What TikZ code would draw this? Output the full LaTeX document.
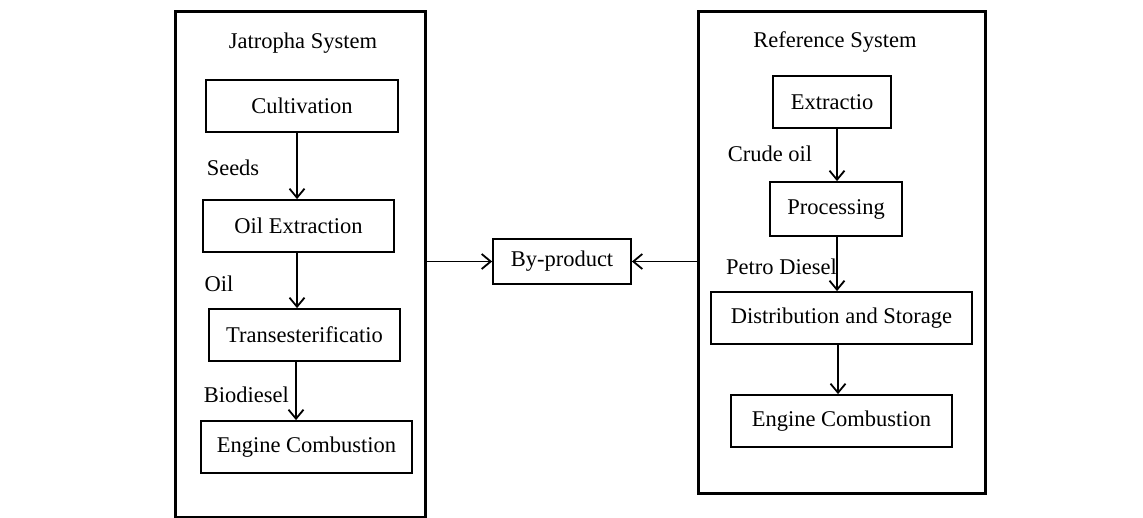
\documentclass[tikz,border=0pt]{standalone}
\usepackage{fontspec}
\setmainfont{Liberation Serif}
\usetikzlibrary{arrows.meta}
\tikzset{
  sysbox/.style={draw, line width=3pt, minimum width=#1},
  stepbox/.style={draw, line width=1.8pt, inner sep=0pt},
  lbl/.style={inner sep=0pt},
  arr/.style={line width=1.8pt, -{Straight Barb[length=9pt,width=15pt,line width=1.8pt]}},
}
\begin{document}
\begin{tikzpicture}[x=1pt,y=-1pt,font=\fontsize{22.5}{27}\selectfont]
\useasboundingbox (0,0) rectangle (1143,518);
% system frames
\node[draw, line width=3pt, minimum width=250pt, minimum height=505pt, inner sep=0pt] (lsys) at (300,264.5) {};
\node[draw, line width=3pt, minimum width=287pt, minimum height=481pt, inner sep=0pt] (rsys) at (841.5,252.5) {};
\node[lbl] (ltitle) at (303,43) {Jatropha System};
\node[lbl] (rtitle) at (835,42) {Reference System};
% left chain
\node[stepbox, minimum width=192pt, minimum height=52pt] (cult) at (302,106) {Cultivation};
\node[stepbox, minimum width=191pt, minimum height=52pt] (oilx) at (298.5,226) {Oil Extraction};
\node[stepbox, minimum width=191pt, minimum height=52pt] (trans) at (304.5,335) {Transesterificatio};
\node[stepbox, minimum width=211pt, minimum height=52pt] (eng1) at (306.5,447) {Engine Combustion};
\coordinate (ax1) at (297,0);
\coordinate (ax2) at (296,0);
\draw[arr] (cult.south -| ax1) -- (oilx.north -| ax1);
\draw[arr] (oilx.south -| ax1) -- (trans.north -| ax1);
\draw[arr] (trans.south -| ax2) -- (eng1.north -| ax2);
\node[lbl] (seeds) at (233,168) {Seeds};
\node[lbl] (oil) at (219,284) {Oil};
\node[lbl, anchor=east] (bio) at (289,395) {Biodiesel};
% right chain
\node[stepbox, minimum width=118pt, minimum height=52pt] (extr) at (832,102) {Extractio};
\node[stepbox, minimum width=132pt, minimum height=54pt] (proc) at (836,209) {Processing};
\node[stepbox, minimum width=261pt, minimum height=52pt] (dist) at (841.5,318) {Distribution and Storage};
\node[stepbox, minimum width=221pt, minimum height=52pt] (eng2) at (841.5,421) {Engine Combustion};
\coordinate (bx1) at (837,0);
\coordinate (bx2) at (838,0);
\draw[arr] (extr.south -| bx1) -- (proc.north -| bx1);
\draw[arr] (proc.south -| bx1) -- (dist.north -| bx1);
\draw[arr] (dist.south -| bx2) -- (eng2.north -| bx2);
\node[lbl] (crude) at (770,154) {Crude oil};
\node[lbl, anchor=east] (petro) at (837,267) {Petro Diesel};
% by-product
\node[stepbox, minimum width=138pt, minimum height=45pt] (byp) at (562,261.5) {By-product};
\draw[arr] (lsys.east |- byp) -- (byp.west);
\draw[arr] (rsys.west |- byp) -- (byp.east);
\end{tikzpicture}
\end{document}
